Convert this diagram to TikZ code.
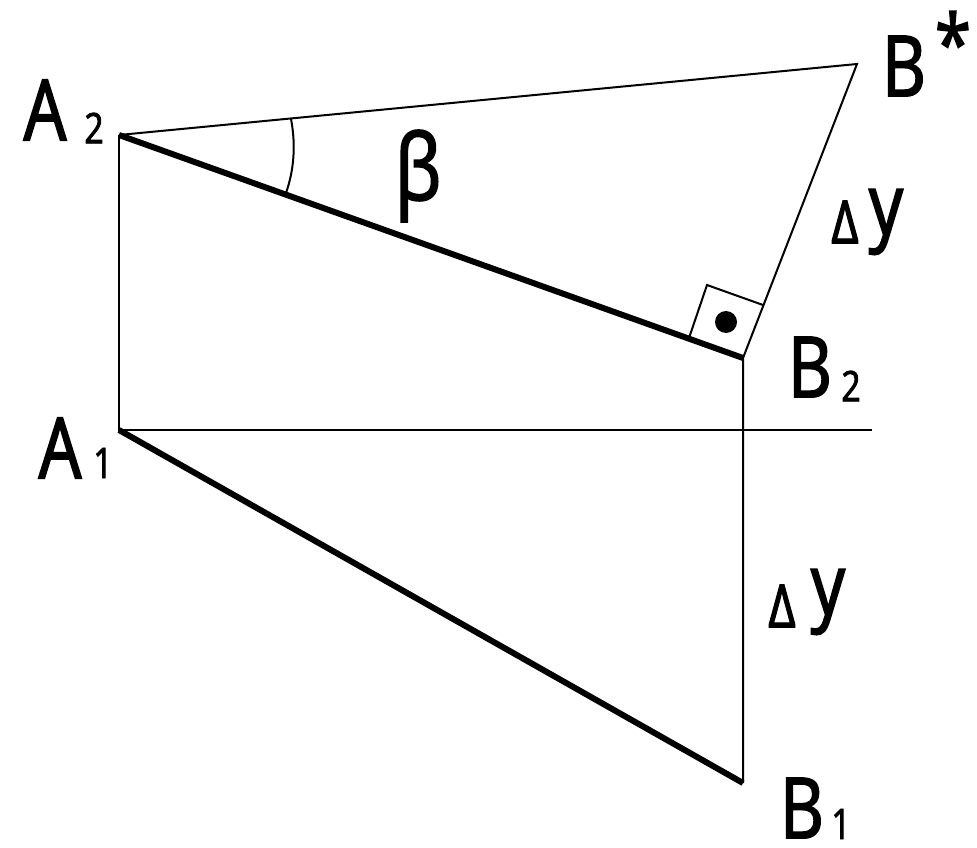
\documentclass[tikz,border=0pt]{standalone}
\usepackage{fontspec}
\setmainfont[FakeBold=2,FakeStretch=0.8]{Open Sans}
\begin{document}
\begin{tikzpicture}[x=0.02cm,y=-0.02cm,thin line/.style={line width=0.04cm},thick line/.style={line width=0.12cm},
main label/.style={inner sep=0pt,font=\fontsize{48}{48}\selectfont},index label/.style={inner sep=0pt,font=\fontsize{24}{24}\selectfont},delta label/.style={inner sep=0pt,font=\fontsize{34}{34}\selectfont}]
\useasboundingbox (0,0) rectangle (977,848);
\coordinate (a2) at (119,135);
\coordinate (b2) at (743,358);
\coordinate (bs) at (857,64);
\coordinate (a1) at (119,430);
\coordinate (b1) at (743,783);
\coordinate (e) at (872,430);
\coordinate (s1) at (707,285);
\coordinate (s2) at (763,305);
\coordinate (s3) at (689,338);
\draw[thin line] (a2) -- (bs) -- (b2) -- (b1);
\draw[thin line] (a2) -- (a1) -- (e);
\draw[thick line] (a2) -- (b2);
\draw[thick line] (a1) -- (b1);
\draw[thin line] (s3) -- (s1) -- (s2);
\draw[thin line] (291,119) .. controls (296,145) and (294,170) .. (286,193);
\fill (726,322) circle (11);
\node[main label] (la2) at (45,110) {A};
\node[index label] (ia2) at (94,128) {2};
\node[main label] (la1) at (60,448) {A};
\node[index label] (ia1) at (103,463) {1};
\node[main label] (lb2) at (810,367) {B};
\node[index label] (ib2) at (851,386) {2};
\node[main label] (lb1) at (802,808) {B};
\node[index label] (ib1) at (841,824) {1};
\node[main label] (lbs) at (904,66) {B};
\node[main label,font=\fontsize{46}{46}\selectfont] (star) at (953,42) {*};
\node[main label,font=\fontsize{52}{52}\selectfont] (beta) at (418,176) {β};
\node[delta label] (d1) at (845,222) {Δ};
\node[main label] (y1) at (886,222) {y};
\node[delta label] (d2) at (782,606) {Δ};
\node[main label] (y2) at (828,602) {y};
\end{tikzpicture}
\end{document}
